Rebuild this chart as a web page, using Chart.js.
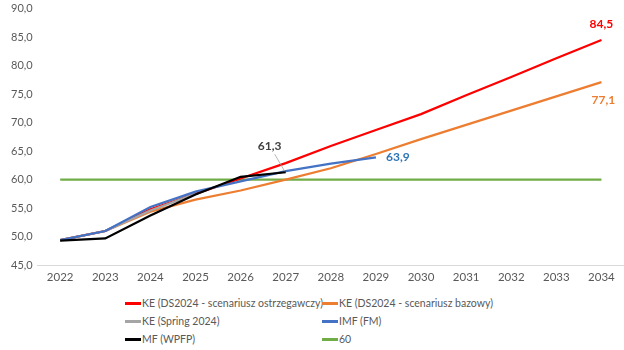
<!DOCTYPE html>
<html>
<head>
<meta charset="utf-8">
<script src="https://cdn.jsdelivr.net/npm/chart.js@4/dist/chart.umd.min.js"></script>
<style>
  html, body { margin: 0; padding: 0; background: #fff; overflow: hidden; }
  #wrap { position: relative; width: 624px; height: 350px; font-family: Lato, "Liberation Sans", sans-serif; overflow: hidden; }
  #box { position: absolute; left: 0; top: -3px; width: 624px; height: 292px; }
  #legend { position: absolute; left: 0; top: 295px; width: 624px; height: 55px; }
  .li { position: absolute; font-size: 10.5px; color: #595959; white-space: nowrap; line-height: 14px; }
  .li span.sw { display: inline-block; width: 16px; height: 2.5px; vertical-align: middle; margin-right: 1px; position: relative; top: -1px; }
</style>
</head>
<body>
<div id="wrap">
  <div id="box"><canvas id="c"></canvas></div>
  <div id="legend"></div>
</div>
<script>
const years = ['2022','2023','2024','2025','2026','2027','2028','2029','2030','2031','2032','2033','2034'];
const keWarning = [49.4, 51.0, 54.8, 57.5, 60.2, 62.9, 65.9, 68.7, 71.5, 74.8, 78.0, 81.3, 84.5];
const keBase    = [49.4, 51.0, 54.4, 56.5, 58.1, 60.0, 62.0, 64.5, 67.1, 69.6, 72.1, 74.6, 77.1];
const keSpring  = [49.4, 51.0, 54.6, 57.5, null, null, null, null, null, null, null, null, null];
const imf       = [49.4, 51.0, 55.2, 57.9, 59.7, 61.5, 62.8, 63.9, null, null, null, null, null];
const mf        = [49.3, 49.7, 53.7, 57.4, 60.5, 61.3, null, null, null, null, null, null, null];
const limit60   = [60, 60, 60, 60, 60, 60, 60, 60, 60, 60, 60, 60, 60];
const seriesNames = ['KE (DS2024 - scenariusz ostrzegawczy)', 'KE (DS2024 - scenariusz bazowy)', 'KE (Spring 2024)', 'IMF (FM)', 'MF (WPFP)', '60'];
const colors = ['#ff0000', '#ed7d31', '#a5a5a5', '#4472c4', '#000000', '#70ad47'];
const seriesData = [keWarning, keBase, keSpring, imf, mf, limit60];
const drawOrder = [3, 4, 2, 1, 0, 5];

// value labels: [dataset index, point index, text, color, dx, dy]
const valueLabels = [
  [0, 12, '84,5', '#ff0000', 0, -16],
  [1, 12, '77,1', '#ed7d31', 2, 18],
  [3, 7, '63,9', '#2e75b6', 22, 0],
  [4, 5, '61,3', '#404040', -16, -26]
];

const FONT = 'Lato, "Liberation Sans", sans-serif';

const labelPlugin = {
  id: 'valueLabels',
  afterDatasetsDraw(chart) {
    const ctx = chart.ctx;
    ctx.save();
    ctx.font = 'bold 12px ' + FONT;
    ctx.textAlign = 'center';
    ctx.textBaseline = 'middle';
    valueLabels.forEach(([di, pi, txt, col, dx, dy]) => {
      const el = chart.getDatasetMeta(di).data[pi];
      if (!el) return;
      const x = el.x + dx, y = el.y + dy;
      if (di === 4) {
        ctx.strokeStyle = '#a6a6a6';
        ctx.lineWidth = 0.8;
        ctx.beginPath();
        ctx.moveTo(x + 5, y + 8);
        ctx.lineTo(el.x - 1, el.y - 1);
        ctx.stroke();
      }
      ctx.fillStyle = col;
      ctx.fillText(txt, x, y);
    });
    ctx.restore();
  }
};

new Chart(document.getElementById('c'), {
  type: 'line',
  data: {
    labels: years,
    datasets: seriesData.map((d, i) => ({
      label: seriesNames[i],
      data: d,
      borderColor: colors[i],
      backgroundColor: colors[i],
      borderWidth: 2.25,
      pointRadius: 0,
      pointHoverRadius: 0,
      tension: 0,
      spanGaps: false,
      order: drawOrder[i]
    }))
  },
  options: {
    responsive: true,
    maintainAspectRatio: false,
    animation: false,
    layout: { padding: { top: 0, right: 0, left: 6, bottom: 0 } },
    plugins: { legend: { display: false }, tooltip: { enabled: false } },
    scales: {
      x: {
        offset: true,
        grid: { display: false, drawTicks: false },
        border: { display: true, color: '#d9d9d9', width: 1 },
        ticks: { color: '#595959', font: { size: 11.5, family: FONT }, maxRotation: 0, autoSkip: false, padding: 5 }
      },
      y: {
        min: 45, max: 90,
        grid: { display: false, drawTicks: false },
        border: { display: false },
        ticks: {
          stepSize: 5,
          color: '#595959',
          padding: 5,
          font: { size: 11, family: FONT },
          callback: v => v.toFixed(1).replace('.', ',')
        }
      }
    }
  },
  plugins: [labelPlugin]
});

// legend (two columns, three rows)
const legendPos = [[125, 1], [322, 1], [125, 19], [322, 19], [125, 37], [322, 37]];
const lg = document.getElementById('legend');
seriesNames.forEach((n, i) => {
  const d = document.createElement('div');
  d.className = 'li';
  d.style.left = legendPos[i][0] + 'px';
  d.style.top = legendPos[i][1] + 'px';
  d.innerHTML = '<span class="sw" style="background:' + colors[i] + '"></span>' + n;
  lg.appendChild(d);
});
</script>
</body>
</html>
